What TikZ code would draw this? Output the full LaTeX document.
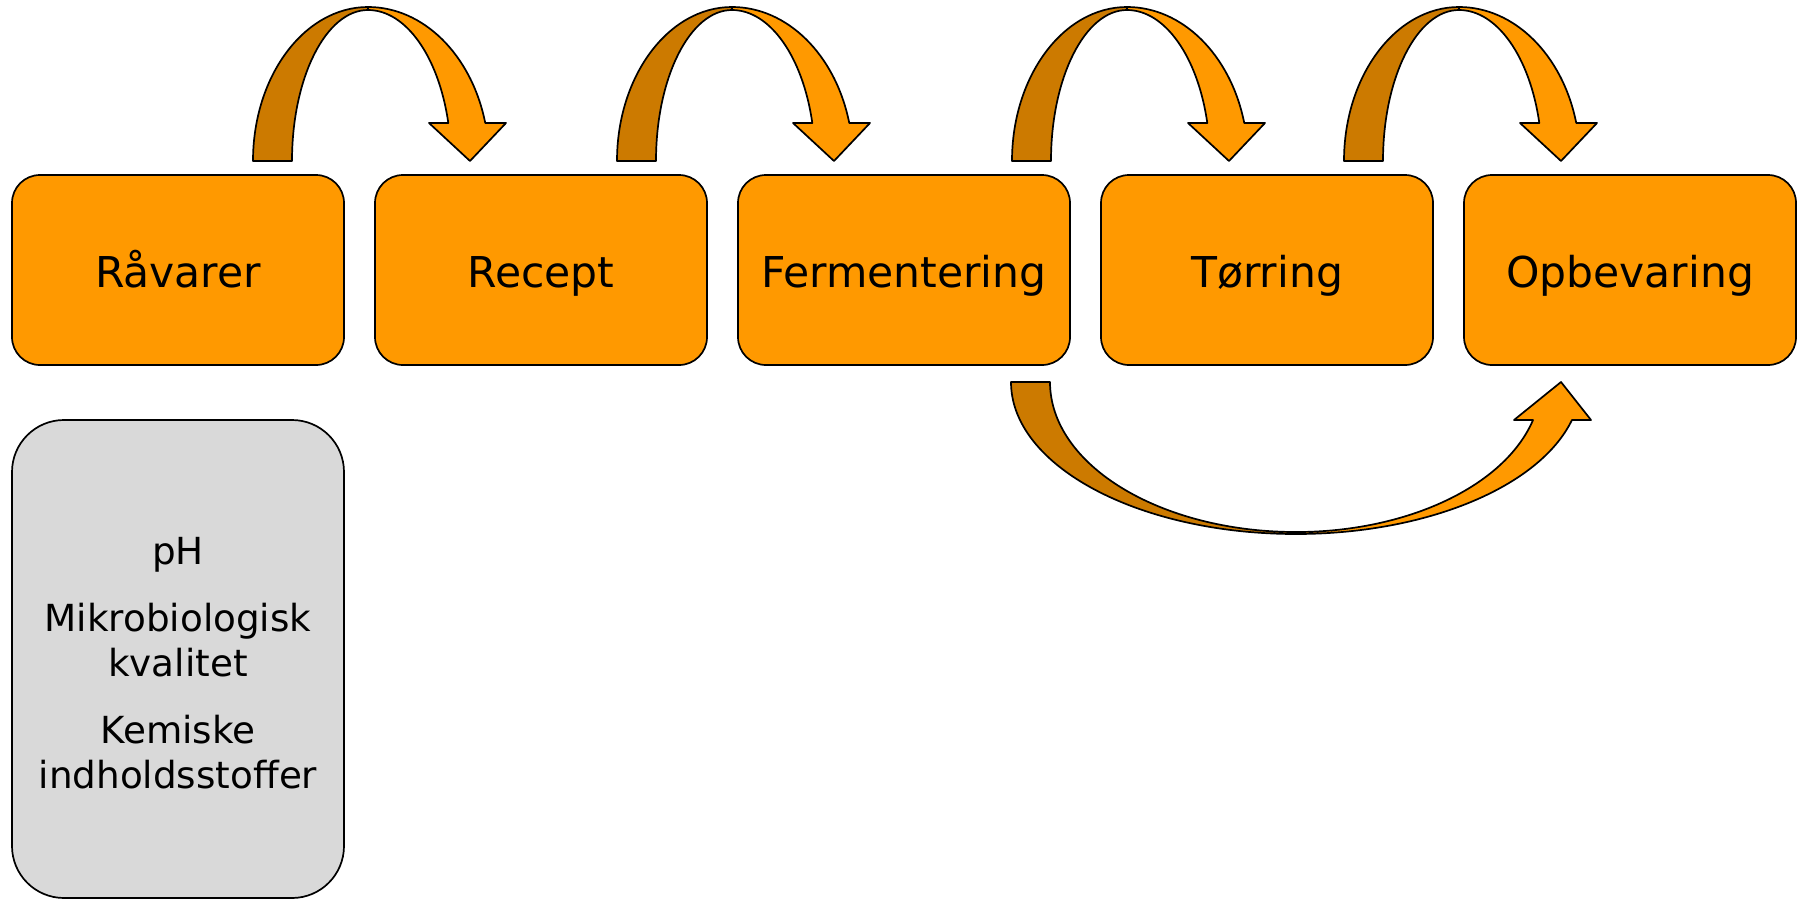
\documentclass[tikz,border=0pt]{standalone}
\usepackage{fontspec}
\setmainfont{DejaVu Sans}
\definecolor{orng}{HTML}{FF9900}
\definecolor{dorng}{HTML}{CC7A00}
\definecolor{gry}{HTML}{D9D9D9}
\tikzset{
  stage/.style={draw=black, line width=1.7pt, fill=orng, rounded corners=28pt,
    minimum width=332pt, minimum height=190pt, inner sep=0pt,
    text height=34pt, text depth=0pt, font=\fontsize{42.5}{50}\selectfont},
  infobox/.style={draw=black, line width=1.7pt, fill=gry, rounded corners=52pt,
    minimum width=332pt, minimum height=478pt, inner sep=0pt, align=center,
    font=\fontsize{37.3}{45}\selectfont},
  backpart/.style={draw=black, line width=1.7pt, fill=dorng, line join=round},
  frontpart/.style={draw=black, line width=1.7pt, fill=orng, line join=round},
  pics/overarrow/.style={code={
    \path[backpart] (0,0) arc[start angle=180,end angle=90,x radius=115,y radius=154]
      -- (115,151) arc[start angle=90,end angle=180,x radius=76,y radius=151] -- cycle;
    \path[frontpart] (115,154) arc[start angle=90,end angle=14.3,x radius=121,y radius=154]
      -- (253,38) -- (217,0) -- (176,38) -- (195.3,38)
      arc[start angle=14.58,end angle=90,x radius=83,y radius=151] -- cycle;
  }},
  pics/underarrow/.style={code={
    \path[backpart] (-285,0) arc[start angle=180,end angle=270,x radius=285,y radius=152]
      -- (0,-150) arc[start angle=270,end angle=180,x radius=246,y radius=150] -- cycle;
    \path[frontpart] (0,-152) arc[start angle=270,end angle=345.52,x radius=285,y radius=152]
      -- (295,-38) -- (265,0) -- (218,-38) -- (237,-38)
      arc[start angle=345.33,end angle=270,x radius=245,y radius=150] -- cycle;
  }}
}
\begin{document}
\begin{tikzpicture}[x=1pt,y=1pt]
\useasboundingbox (0,0) rectangle (1802,-900);
\fill[white] (0,0) rectangle (1802,-900);

\node[stage] (raavarer) at (178,-270) {Råvarer};
\node[stage] (recept)   at (541,-270) {Recept};
\node[stage] (ferm)     at (904,-270) {Fermentering};
\node[stage] (torring)  at (1267,-270) {Tørring};
\node[stage] (opbev)    at (1630,-270) {Opbevaring};

\node[infobox] (params) at (178,-659) {\rule{0pt}{36pt}pH\\[22pt]Mikrobiologisk\\kvalitet\\[22pt]Kemiske\\indholdsstoffer};

\pic at (253,-161) {overarrow};
\pic at (617,-161) {overarrow};
\pic at (1012,-161) {overarrow};
\pic at (1344,-161) {overarrow};
\pic at (1296,-382) {underarrow};
\end{tikzpicture}
\end{document}
